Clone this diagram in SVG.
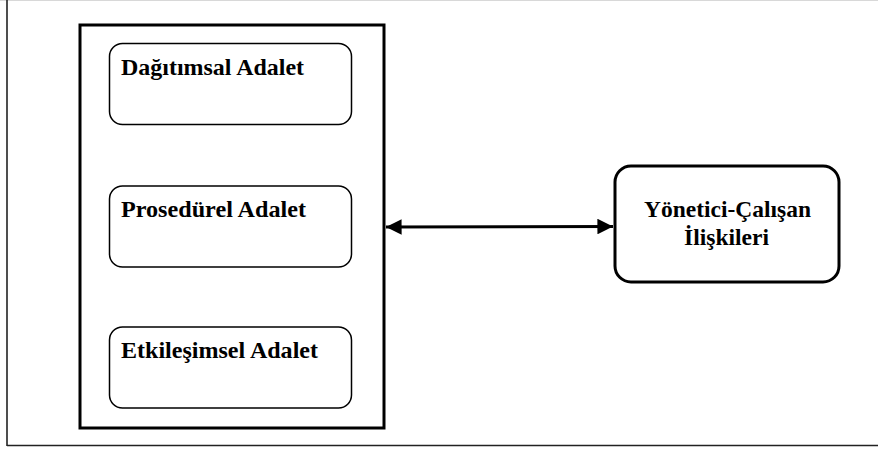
<svg xmlns="http://www.w3.org/2000/svg" width="878" height="450" viewBox="0 0 878 450">
<style>
.t{font-family:"Liberation Serif","Times New Roman",serif;font-weight:bold;font-size:23.5px;fill:#000}
.inner{fill:#fff;stroke:#000;stroke-width:1.5}
</style>
<defs>
<marker id="ah" viewBox="0 0 10 10" refX="10" refY="5" markerWidth="5.8" markerHeight="5.2" markerUnits="strokeWidth" orient="auto-start-reverse">
<path d="M0,0 L10,5 L0,10 z" fill="#000"/>
</marker>
</defs>
<rect width="878" height="450" fill="#fff"/>
<g id="frame">
<line x1="0" y1="0.5" x2="878" y2="0.5" stroke="#d8d8d8" stroke-width="1"/>
<line x1="7" y1="0" x2="7" y2="446" stroke="#222" stroke-width="1.6"/>
<line x1="7" y1="445.5" x2="878" y2="445.5" stroke="#222" stroke-width="1.6"/>
</g>
<g id="group-box">
<rect x="80" y="25" width="304" height="403" fill="none" stroke="#000" stroke-width="3"/>
</g>
<g id="dagitimsal">
<rect class="inner" x="109.5" y="43.5" width="242" height="81" rx="13"/>
<text class="t" x="121" y="75" textLength="183" lengthAdjust="spacingAndGlyphs">Dağıtımsal Adalet</text>
</g>
<g id="prosedurel">
<rect class="inner" x="109.5" y="186" width="242" height="81" rx="13"/>
<text class="t" x="121" y="217" textLength="185" lengthAdjust="spacingAndGlyphs">Prosedürel Adalet</text>
</g>
<g id="etkilesimsel">
<rect class="inner" x="109.5" y="327" width="242" height="81" rx="13"/>
<text class="t" x="121" y="358" textLength="197" lengthAdjust="spacingAndGlyphs">Etkileşimsel Adalet</text>
</g>
<g id="yonetici">
<rect x="615" y="166" width="224" height="116" rx="16" fill="#fff" stroke="#000" stroke-width="3"/>
<text class="t" x="644" y="217" textLength="167" lengthAdjust="spacingAndGlyphs">Yönetici-Çalışan</text>
<text class="t" x="684" y="245" textLength="85" lengthAdjust="spacingAndGlyphs">İlişkileri</text>
</g>
<g id="connectors">
<line x1="386" y1="227" x2="613" y2="226.5" stroke="#000" stroke-width="3" marker-start="url(#ah)" marker-end="url(#ah)"/>
</g>
</svg>
